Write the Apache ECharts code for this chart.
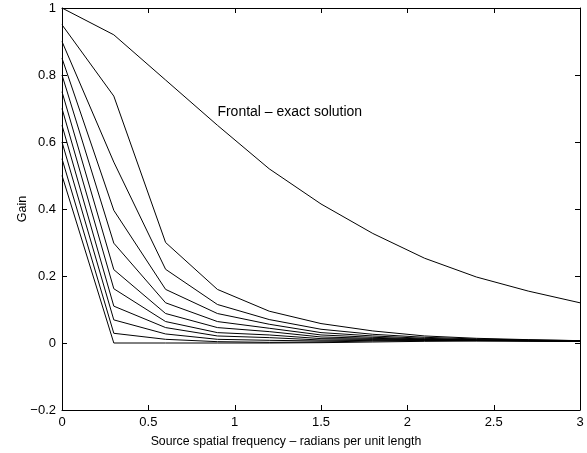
<!DOCTYPE html>
<html>
<head>
    <meta charset="utf-8">
    <script src="https://cdn.jsdelivr.net/npm/echarts@6/dist/echarts.min.js"></script>
    <style>
        html, body { margin: 0; padding: 0; background: #fff; }
        #main { width: 587px; height: 453px; }
    </style>
</head>
<body>
<div id="main"></div>
<script type="text/javascript">
    // spatial frequency samples
    var freq = [0, 0.3, 0.6, 0.9, 1.2, 1.5, 1.8, 2.1, 2.4, 2.7, 3.0];

    // frontal exact solution
    var exact = [1, 0.92, 0.785, 0.65, 0.52, 0.415, 0.327, 0.253, 0.197, 0.155, 0.12];

    // approximations (one per starting gain)
    var approx1 = [0.95, 0.737, 0.30, 0.16, 0.095, 0.058, 0.036, 0.021, 0.014, 0.010, 0.007];
    var approx2 = [0.90, 0.54, 0.22, 0.115, 0.070, 0.041, 0.026, 0.017, 0.012, 0.009, 0.007];
    var approx3 = [0.85, 0.396, 0.16, 0.088, 0.056, 0.031, 0.021, 0.014, 0.010, 0.008, 0.006];
    var approx4 = [0.80, 0.298, 0.12, 0.064, 0.044, 0.024, 0.017, 0.012, 0.009, 0.007, 0.006];
    var approx5 = [0.75, 0.219, 0.088, 0.046, 0.034, 0.018, 0.014, 0.011, 0.008, 0.007, 0.006];
    var approx6 = [0.70, 0.162, 0.064, 0.031, 0.024, 0.013, 0.012, 0.010, 0.008, 0.007, 0.006];
    var approx7 = [0.65, 0.110, 0.046, 0.021, 0.016, 0.009, 0.010, 0.009, 0.008, 0.007, 0.006];
    var approx8 = [0.60, 0.069, 0.027, 0.011, 0.008, 0.006, 0.008, 0.008, 0.007, 0.006, 0.005];
    var approx9 = [0.55, 0.029, 0.011, 0.004, 0.002, 0.003, 0.006, 0.007, 0.007, 0.006, 0.005];
    var approx10 = [0.50, 0, 0, 0, 0, 0.001, 0.003, 0.005, 0.006, 0.006, 0.005];

    var approxList = [approx1, approx2, approx3, approx4, approx5,
        approx6, approx7, approx8, approx9, approx10];

    // tick positions (matlab style, inward on all four sides)
    var xTicks = [0, 0.5, 1, 1.5, 2, 2.5, 3];
    var yTicks = [-0.2, 0, 0.2, 0.4, 0.6, 0.8, 1];

    var xMin = 0, xMax = 3, yMin = -0.2, yMax = 1;
    var tickLen = 5;
    var font = 'Liberation Sans, Arial, sans-serif';

    function pairs(ys) {
        return freq.map(function (x, i) { return [x, ys[i]]; });
    }

    function fmtY(v) {
        var s = String(Math.round(v * 10) / 10);
        return s.replace('-', '\u2212');
    }

    function axisLine() {
        return { show: true, onZero: false, lineStyle: { color: '#000', width: 1 } };
    }

    function tickLine(x1, y1, x2, y2) {
        return {
            type: 'line',
            shape: { x1: x1, y1: y1, x2: x2, y2: y2 },
            style: { stroke: '#000', lineWidth: 1 }
        };
    }

    var series = [{
        name: 'exact',
        type: 'line',
        data: pairs(exact),
        showSymbol: false,
        lineStyle: { color: '#000', width: 1 },
        markPoint: {
            symbol: 'circle',
            symbolSize: 0,
            data: [{ coord: [0.9, 0.69] }],
            label: {
                show: true,
                position: 'right',
                distance: 0,
                formatter: 'Frontal \u2013 exact solution',
                color: '#000',
                fontFamily: font,
                fontSize: 14
            }
        }
    }];
    approxList.forEach(function (arr, k) {
        series.push({
            name: 'approx' + (k + 1),
            type: 'line',
            data: pairs(arr),
            showSymbol: false,
            lineStyle: { color: '#000', width: 1 }
        });
    });

    // x ticks, bottom and top edges
    series.push({
        type: 'custom',
        silent: true,
        clip: false,
        data: xTicks.map(function (v) { return [v, yMin]; }),
        renderItem: function (params, api) {
            var v = api.value(0);
            var b = api.coord([v, yMin]);
            var t = api.coord([v, yMax]);
            var bx = Math.round(b[0]) + 0.5;
            return {
                type: 'group',
                children: [
                    tickLine(bx, b[1], bx, b[1] - tickLen),
                    tickLine(bx, t[1], bx, t[1] + tickLen)
                ]
            };
        }
    });
    // y ticks, left and right edges
    series.push({
        type: 'custom',
        silent: true,
        clip: false,
        data: yTicks.map(function (v) { return [xMin, v]; }),
        renderItem: function (params, api) {
            var v = api.value(1);
            var l = api.coord([xMin, v]);
            var r = api.coord([xMax, v]);
            var ly = Math.round(l[1]) + 0.5;
            return {
                type: 'group',
                children: [
                    tickLine(l[0], ly, l[0] + tickLen, ly),
                    tickLine(r[0], ly, r[0] - tickLen, ly)
                ]
            };
        }
    });

    var myChart = echarts.init(document.getElementById('main'));
    var opt = {
        animation: false,
        backgroundColor: '#fff',
        grid: { left: 62, right: 7, top: 8, bottom: 40, containLabel: false },
        xAxis: [{
            type: 'value',
            min: xMin, max: xMax, interval: 0.5,
            name: 'Source spatial frequency \u2013 radians per unit length',
            nameLocation: 'middle',
            nameGap: 26,
            nameMoveOverlap: false,
            nameTextStyle: { color: '#000', fontFamily: font, fontSize: 12.3, padding: [0, 70, 0, 0] },
            axisLine: axisLine(),
            axisTick: { show: false },
            axisLabel: { color: '#000', fontFamily: font, fontSize: 13, margin: 6 },
            splitLine: { show: false }
        }, {
            type: 'value',
            position: 'top',
            min: xMin, max: xMax, interval: 0.5,
            axisLine: axisLine(),
            axisTick: { show: false },
            axisLabel: { show: false },
            splitLine: { show: false }
        }],
        yAxis: [{
            type: 'value',
            min: yMin, max: yMax, interval: 0.2,
            name: 'Gain',
            nameLocation: 'middle',
            nameGap: 33,
            nameMoveOverlap: false,
            nameRotate: 90,
            nameTextStyle: { color: '#000', fontFamily: font, fontSize: 12.5 },
            axisLine: axisLine(),
            axisTick: { show: false },
            axisLabel: { color: '#000', fontFamily: font, fontSize: 13, margin: 6, formatter: fmtY },
            splitLine: { show: false }
        }, {
            type: 'value',
            position: 'right',
            min: yMin, max: yMax, interval: 0.2,
            axisLine: axisLine(),
            axisTick: { show: false },
            axisLabel: { show: false },
            splitLine: { show: false }
        }],
        series: series
    };

    myChart.setOption(option = opt);
</script>
</body>
</html>
